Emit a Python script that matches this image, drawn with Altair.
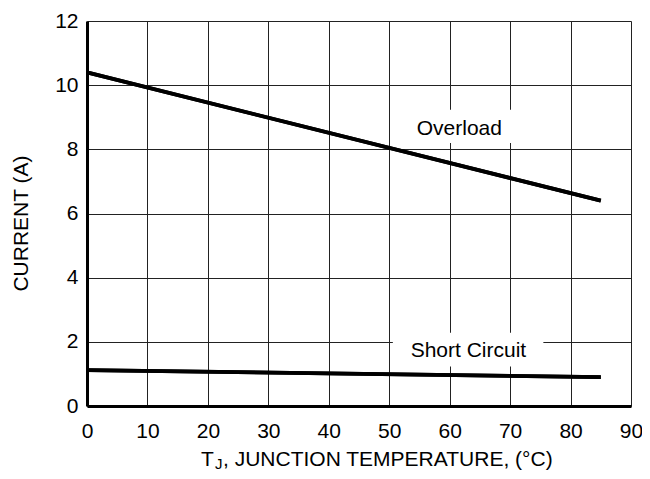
import altair as alt
import pandas as pd

# Data
temp_overload = [0, 85]
current_overload = [10.4, 6.4]
temp_short = [0, 85]
current_short = [1.12, 0.9]

x_ticks = [0, 10, 20, 30, 40, 50, 60, 70, 80, 90]
y_ticks = [0, 2, 4, 6, 8, 10, 12]

labels = ["Overload", "Short Circuit"]
label_x = [61.6, 63.1]
label_y = [8.45, 1.52]
box_x = [50.6, 50.6]
box_x2 = [73.0, 75.5]
box_y = [8.2, 1.23]
box_y2 = [9.23, 2.28]

FONT = "Liberation Sans"

lines_df = pd.DataFrame({
    "T": temp_overload + temp_short,
    "I": current_overload + current_short,
    "series": ["Overload"] * len(temp_overload) + ["Short Circuit"] * len(temp_short),
})
lab_df = pd.DataFrame({"label": labels, "x": label_x, "y": label_y,
                       "bx": box_x, "bx2": box_x2, "by": box_y, "by2": box_y2})

xscale = alt.Scale(domain=[0, 90], nice=False, zero=False)
yscale = alt.Scale(domain=[0, 12], nice=False, zero=False)

xaxis = alt.Axis(values=x_ticks, title=None, grid=True, gridColor="#222", gridWidth=1,
                 gridOpacity=1, ticks=False, domain=True, domainColor="black", domainWidth=3,
                 labelFont=FONT, labelFontSize=21, labelColor="black", labelPadding=14,
                 labelFlush=False, labelOverlap=False)
yaxis = alt.Axis(values=y_ticks, title="CURRENT (A)", grid=True, gridColor="#222", gridWidth=1,
                 gridOpacity=1, ticks=False, domain=True, domainColor="black", domainWidth=3,
                 labelFont=FONT, labelFontSize=21, labelColor="black", labelPadding=9,
                 labelFlush=False, labelOverlap=False,
                 titleFont=FONT, titleFontSize=21, titleFontWeight="normal", titleColor="black",
                 titleAngle=270, titleX=-66, titleY=202, titleAlign="center", titleBaseline="middle")

base = alt.Chart(lines_df)

lines = base.mark_line(color="black", strokeWidth=3.7).encode(
    x=alt.X("T:Q", scale=xscale, axis=xaxis),
    y=alt.Y("I:Q", scale=yscale, axis=yaxis),
    detail="series:N",
)

boxes = alt.Chart(lab_df).mark_rect(color="white", opacity=1).encode(
    x=alt.X("bx:Q", scale=xscale), x2="bx2:Q",
    y=alt.Y("by:Q", scale=yscale), y2="by2:Q",
)

texts = alt.Chart(lab_df).mark_text(font=FONT, fontSize=21, color="black",
                                    align="center", baseline="alphabetic").encode(
    x=alt.X("x:Q", scale=xscale), y=alt.Y("y:Q", scale=yscale), text="label:N"
)

one = pd.DataFrame({"k": [0]})
t1 = alt.Chart(one).mark_text(text="T", font=FONT, fontSize=21, color="black",
                              align="left", baseline="alphabetic").encode(
    x=alt.value(114), y=alt.value(445))
t2 = alt.Chart(one).mark_text(text="J", font=FONT, fontSize=15, color="black",
                              align="left", baseline="alphabetic").encode(
    x=alt.value(128), y=alt.value(448))
t3 = alt.Chart(one).mark_text(text=", JUNCTION TEMPERATURE, (\u00b0C)", font=FONT, fontSize=21,
                              color="black", align="left", baseline="alphabetic").encode(
    x=alt.value(136), y=alt.value(445))

chart = alt.layer(lines, boxes, lines, texts, t1, t2, t3).properties(
    width=544, height=385,
    autosize=alt.AutoSizeParams(type="none"),
    padding={"left": 79, "top": 13, "right": 11, "bottom": 65},
).configure_view(strokeWidth=0).configure(background="white")

chart.save("out.html", embed_options={"renderer": "svg", "actions": False})
